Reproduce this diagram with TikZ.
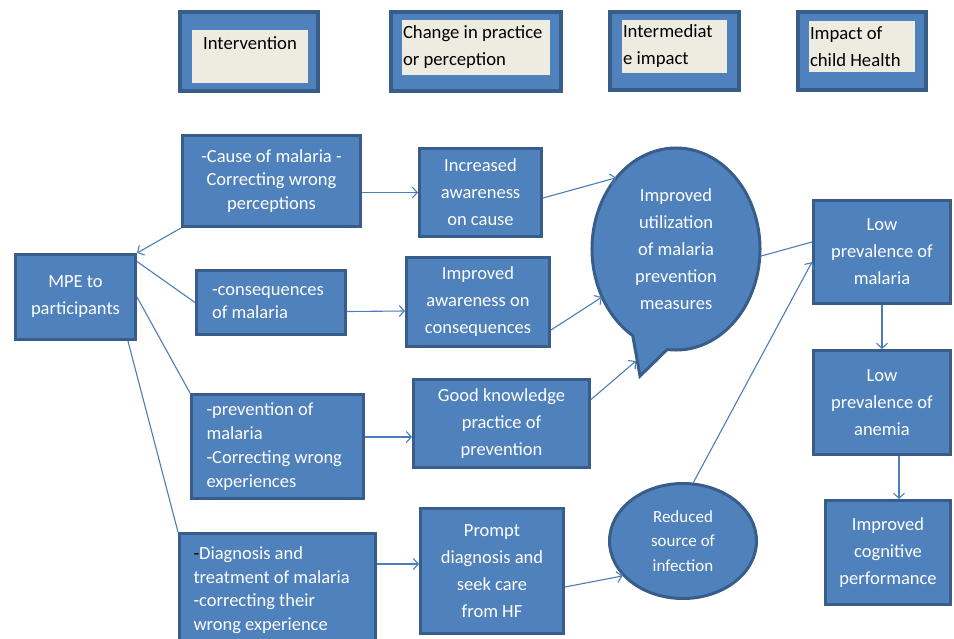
\documentclass[tikz,border=0pt]{standalone}
\usepackage{fontspec}
\setmainfont{Carlito}
\usepackage{tikz}
\usetikzlibrary{shapes.geometric}
\usetikzlibrary{arrows.meta}

\definecolor{boxfill}{RGB}{79,129,189}
\definecolor{boxline}{RGB}{56,93,138}
\definecolor{paper}{RGB}{238,236,225}
\definecolor{linkcol}{RGB}{74,126,187}

\begin{document}
\begin{tikzpicture}[x=1pt,y=1pt,yscale=-1,xscale=1,
  hdrbox/.style={draw=boxline,fill=boxfill,line width=4pt,inner sep=0pt},
  hdrin/.style={fill=paper,inner sep=1pt,text=black,align=flush left,font=\fontsize{18.7}{27}\selectfont},
  mainbox/.style={draw=boxline,fill=boxfill,line width=3pt,inner sep=2pt,text=white,align=center,font=\fontsize{18.5}{27}\selectfont},
  oval/.style={ellipse,inner sep=0pt,text=white,align=center,font=\fontsize{18.5}{27}\selectfont},
  link/.style={draw=linkcol,line width=1.1pt},
  arr/.style={link,-{Straight Barb[length=5pt,width=11pt]}}]
\useasboundingbox (0,0) rectangle (954,638);
\clip (0,0) rectangle (954,638);

% Header boxes
\node[hdrbox,minimum width=138,minimum height=79] (hint) at (249,51.5) {};
\node[hdrin,align=center,minimum width=116,minimum height=53,text depth=27pt] (hinttxt) at (250,56.5) {Intervention};
\node[hdrbox,minimum width=170,minimum height=79] (hchg) at (476,51.5) {};
\node[hdrin,text width=146,minimum height=55] (hchgtxt) at (476,47.5) {Change in practice\\or perception};
\node[hdrbox,minimum width=129,minimum height=78] (hmid) at (674.5,51) {};
\node[hdrin,text width=103,minimum height=53] (hmidtxt) at (674.5,46.5) {Intermediat\\e impact};
\node[hdrbox,minimum width=128,minimum height=78] (hkid) at (862,51) {};
\node[hdrin,text width=104,minimum height=51] (hkidtxt) at (862,46.5) {Impact of\\child Health};

% Intervention column
\node[mainbox,minimum width=120,minimum height=85] (mpe) at (75.5,297) {MPE to\\participants};
\node[mainbox,minimum width=178,minimum height=91,font=\fontsize{18.5}{23.5}\selectfont] (cause) at (271.5,181) {-Cause of malaria -\\Correcting wrong\\perceptions};
\node[mainbox,minimum width=149,minimum height=64,align=flush left,text width=118,font=\fontsize{18.5}{23.5}\selectfont] (cons) at (271,302.5) {-consequences\\of malaria};
\node[mainbox,minimum width=172,minimum height=104,align=flush left,text width=142,font=\fontsize{18.5}{24}\selectfont] (prev) at (277.5,446.5) {-prevention of\\malaria\\-Correcting wrong\\experiences};
\node[mainbox,minimum width=196,minimum height=113,align=flush left,text width=168,font=\fontsize{18.5}{23.5}\selectfont] (diag) at (277.5,590) {{\color{black}-}Diagnosis and\\treatment of malaria\\-correcting their\\wrong experience};

% Change column
\node[mainbox,minimum width=122,minimum height=88] (inc) at (480.5,192.5) {Increased\\awareness\\on cause};
\node[mainbox,minimum width=143,minimum height=89] (impaw) at (478,302) {Improved\\awareness on\\consequences};
\node[mainbox,minimum width=176,minimum height=88] (good) at (501.5,423.5) {Good knowledge\\practice of\\prevention};
\node[mainbox,minimum width=143,minimum height=125] (prompt) at (492,571) {Prompt\\diagnosis and\\seek care\\from HF};

% Intermediate column
\draw[draw=boxline,fill=boxfill,line width=3pt] (640,376) -- ([shift={(121:84 and 101)}]676,249) arc[start angle=121,end angle=456,x radius=84,y radius=101] -- cycle;
\node[oval,minimum width=168,minimum height=202] (util) at (676,249) {Improved\\utilization\\of malaria\\prevention\\measures};
\coordinate (tailpt) at (636,361);
\node[oval,draw=boxline,fill=boxfill,line width=3pt,minimum width=147,minimum height=115,font=\fontsize{17}{24.5}\selectfont] (red) at (683,541) {Reduced\\source of\\infection};

% Impact column
\node[mainbox,minimum width=137,minimum height=103] (lowmal) at (882,252) {Low\\prevalence of\\malaria};
\node[mainbox,minimum width=137,minimum height=104] (lowan) at (882,402.5) {Low\\prevalence of\\anemia};
\node[mainbox,minimum width=125,minimum height=104] (cog) at (888,552.5) {Improved\\cognitive\\performance};

% Connectors
\draw[arr] (cause.south west) -- (mpe.north east);
\draw[link] (mpe.30) -- (cons.west);
\draw[link] (mpe.east) -- (prev.north west);
\draw[link] (mpe.-40) -- (diag.north west);
\draw[arr] (cause.east |- inc.west) -- (inc.west);
\draw[arr] ([yshift=9pt]cons.east) -- ([yshift=9pt]impaw.west);
\draw[arr] ([yshift=-9.5pt]prev.east) -- ([yshift=13.5pt]good.west);
\draw[arr] ([yshift=-26pt]diag.east) -- ([yshift=-7pt]prompt.west);
\draw[arr] ([yshift=5.5pt]inc.east) -- (util.130);
\draw[arr] ([yshift=28pt]impaw.east) -- (util.213);
\draw[arr] (good.15) -- (tailpt);
\draw[link] (util.-5) -- ([yshift=-10pt]lowmal.west);
\draw[arr] (red.80) -- ([yshift=10pt]lowmal.west);
\draw[arr] ([yshift=16pt]prompt.east) -- (red.210);
\draw[arr] (lowmal.south) -- (lowan.north);
\draw[arr] ([xshift=17pt]lowan.south) -- ([xshift=11pt]cog.north);

\end{tikzpicture}
\end{document}
